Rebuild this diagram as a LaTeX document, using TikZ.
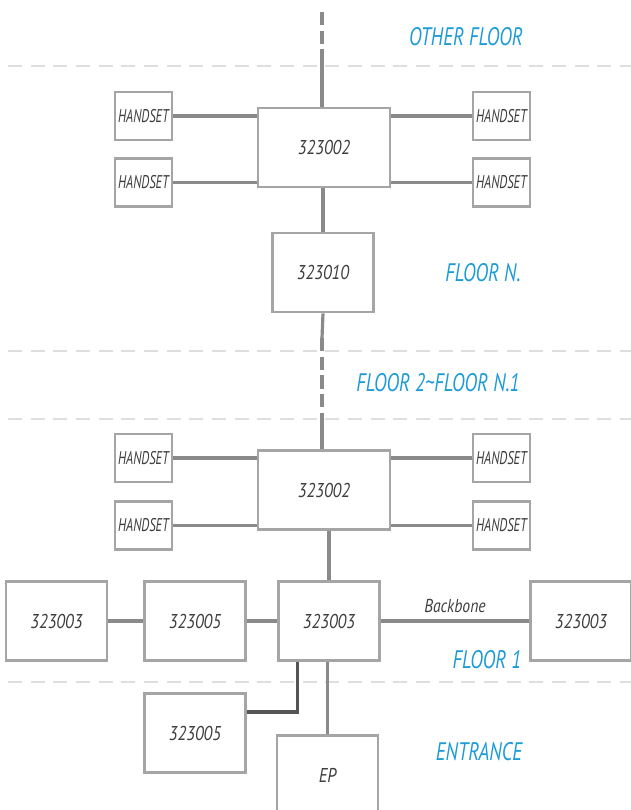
\documentclass[tikz,border=0pt]{standalone}
\usepackage{fontspec}
\setmainfont{PT Sans}
\newfontfamily\unitfont{PT Sans}[FakeStretch=0.84]
\newfontfamily\narrowfont{PT Sans}[FakeStretch=0.76]
\newfontfamily\handsetfont{PT Sans}[FakeStretch=0.69]
\usetikzlibrary{calc}
\definecolor{boxgray}{RGB}{165,165,165}
\definecolor{wiregray}{RGB}{138,138,138}
\definecolor{wiredark}{RGB}{85,85,85}
\definecolor{floorgray}{RGB}{222,222,222}
\definecolor{floorblue}{RGB}{28,155,215}
\definecolor{labelgray}{RGB}{62,62,62}

\begin{document}
\begin{tikzpicture}[x=0.75pt,y=-0.75pt,
  unit/.style={draw=boxgray,line width=2pt,fill=white,inner sep=0pt,text=labelgray,
    font=\unitfont\itshape\fontsize{15}{18}\selectfont,minimum width=75.75pt,minimum height=59.25pt},
  hub/.style={unit,minimum width=99pt},
  handset/.style={unit,font=\handsetfont\itshape\fontsize{13.8}{16}\selectfont,
    minimum width=42.75pt,minimum height=36pt},
  wire/.style={draw=wiregray,line width=2.4pt},
  riser/.style={wire,dash pattern=on 10pt off 4pt},
  floorsep/.style={draw=floorgray,line width=2pt,dash pattern=on 10.5pt off 6.5pt},
  floorname/.style={text=floorblue,font=\narrowfont\itshape\fontsize{19}{22}\selectfont}]
  \useasboundingbox (0,0) rectangle (631,810);

  % floor separators
  \foreach \y in {66,351,419,682}
    \draw[floorsep] (8,\y) -- (631,\y);

  \node[floorname] (otherFloor) at (466,37) {OTHER FLOOR};
  \node[floorname] (floorN) at (483,273) {FLOOR N.};
  \node[floorname] (floorMid) at (438,383) {FLOOR 2\textasciitilde FLOOR N.1};
  \node[floorname] (floorOne) at (487,660) {FLOOR 1};
  \node[floorname] (entrance) at (479,752) {ENTRANCE};

  % floor N
  \node[hub] (swTop) at (324,147.5) {323002};
  \node[handset] (hsTL1) at (143.5,116) {HANDSET};
  \node[handset] (hsTL2) at (143.5,182.5) {HANDSET};
  \node[handset] (hsTR1) at (501.5,116) {HANDSET};
  \node[handset] (hsTR2) at (501.5,182.5) {HANDSET};
  \node[unit] (distTop) at (323,272.5) {323010};

  % floor 1
  \node[hub] (swOne) at (324,490) {323002};
  \node[handset] (hsOL1) at (143.5,458) {HANDSET};
  \node[handset] (hsOL2) at (143.5,525.5) {HANDSET};
  \node[handset] (hsOR1) at (501.5,458) {HANDSET};
  \node[handset] (hsOR2) at (501.5,525.5) {HANDSET};
  \node[unit] (bbLeft) at (56.5,621) {323003};
  \node[unit] (extOne) at (195,621) {323005};
  \node[unit] (bbMid) at (329,621) {323003};
  \node[unit] (bbRight) at (581,621) {323003};

  % entrance
  \node[unit] (extLow) at (195,733) {323005};
  \node[unit] (panel) at (327.5,775) {EP};

  \coordinate (riserTop) at (322,12);
  \coordinate (riserEnd) at (322,57);
  \coordinate (gapTop) at (322,338);
  \coordinate (gapBot) at (322,423);

  \draw[riser] (riserTop) -- (riserEnd);
  \draw[wire] (riserEnd) -- (riserEnd |- swTop.north);
  \foreach \h in {TL1,TL2}
    \draw[wire] (hs\h.east) -- (hs\h.east -| swTop.west);
  \foreach \h in {TR1,TR2}
    \draw[wire] (hs\h.west) -- (hs\h.west -| swTop.east);
  \foreach \h in {OL1,OL2}
    \draw[wire] (hs\h.east) -- (hs\h.east -| swOne.west);
  \foreach \h in {OR1,OR2}
    \draw[wire] (hs\h.west) -- (hs\h.west -| swOne.east);
  \draw[wire] (distTop.north) -- (distTop.north |- swTop.south);
  \draw[wire] (distTop.south) -- (gapTop);
  \draw[riser] (gapTop) -- (gapBot);
  \draw[wire] (gapBot) -- (gapBot |- swOne.north);

  \draw[wire] (bbMid.north) -- (bbMid.north |- swOne.south);
  \draw[wire] (bbLeft) -- (extOne);
  \draw[wire] (extOne) -- (bbMid);
  \draw[wire] (bbMid) -- node[above=2pt,text=labelgray,font=\unitfont\itshape\fontsize{14}{16}\selectfont] {Backbone} (bbRight);
  \draw[wire] (panel.north) -- (panel.north |- bbMid.south);
  \draw[wire,draw=wiredark] ($(bbMid.south west)+(20,0)$) |- ($(extLow.east)+(0,-21)$);
\end{tikzpicture}
\end{document}
